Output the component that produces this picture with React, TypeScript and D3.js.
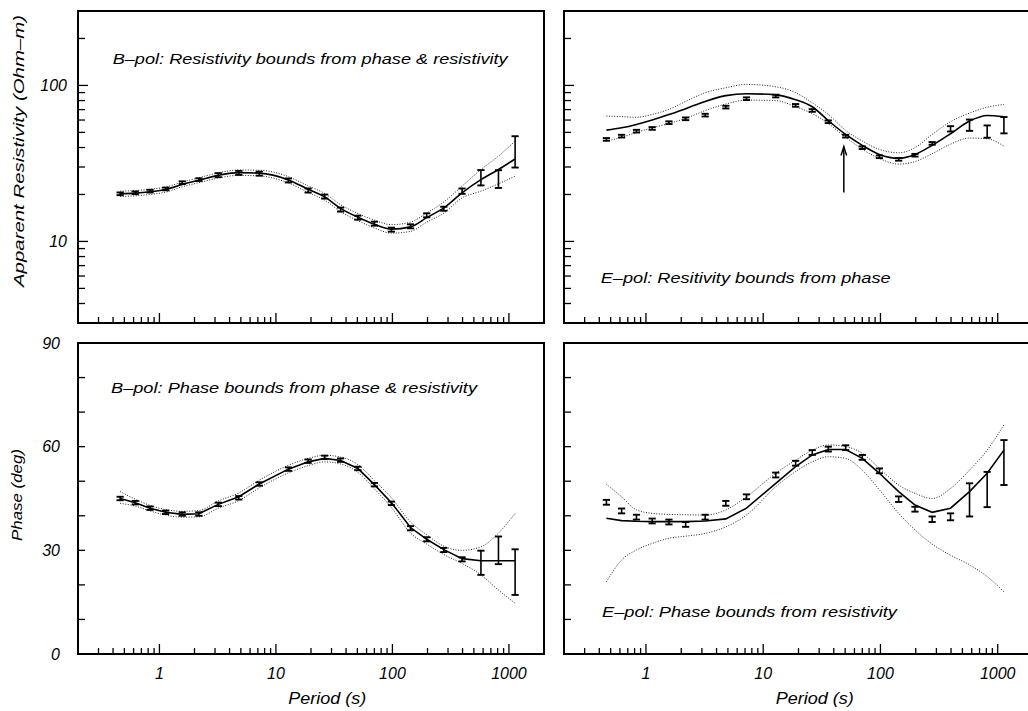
import { useEffect, useRef } from "react";
import * as d3 from "d3";

// periods (s) of the MT sites, shared by all four panels
const periods = [0.46, 0.62, 0.83, 1.13, 1.57, 2.18, 3.2, 4.8, 7.2, 12.8, 18.9, 26.2, 35.9, 50.5, 70, 98, 143, 197, 276, 396, 575, 813, 1130];

// B-pol apparent resistivity (Ohm-m)
const bRhoData = [20.2, 20.5, 21.0, 21.7, 23.8, 24.9, 26.6, 27.5, 27.2, 24.6, 21.2, 19.4, 16.0, 14.2, 13.0, 11.9, 12.5, 14.7, 16.2, 21.0, 25.6, 25.1, 37.5];
const bRhoErr = [0.02, 0.02, 0.02, 0.02, 0.02, 0.02, 0.03, 0.03, 0.03, 0.03, 0.03, 0.03, 0.03, 0.03, 0.03, 0.03, 0.03, 0.03, 0.03, 0.04, 0.12, 0.14, 0.26];
const bRhoModel = [20.2, 20.4, 20.8, 21.5, 23.2, 24.7, 26.5, 27.6, 27.4, 24.8, 21.6, 19.3, 16.3, 14.3, 12.9, 12.0, 12.4, 14.2, 16.4, 20.5, 24.9, 28.9, 33.8];
const bRhoUpper = [21.0, 21.2, 21.6, 22.3, 24.0, 25.6, 27.5, 28.7, 28.6, 26.0, 22.7, 20.3, 17.2, 15.1, 13.7, 12.8, 13.3, 15.2, 17.9, 22.6, 28.9, 35.2, 44.0];
const bRhoLower = [19.4, 19.6, 20.0, 20.7, 22.4, 23.8, 25.5, 26.5, 26.3, 23.7, 20.6, 18.4, 15.5, 13.6, 12.2, 11.3, 11.6, 13.3, 15.2, 19.0, 21.0, 23.4, 26.2];

// E-pol apparent resistivity (Ohm-m)
const eRhoData = [45.1, 47.3, 50.9, 53.0, 57.7, 61.1, 64.5, 72.6, 82.2, 85.5, 74.5, 69.1, 58.5, 47.3, 39.9, 34.9, 33.6, 35.7, 42.5, 52.7, 55.6, 50.6, 55.6];
const eRhoErr = [0.02, 0.02, 0.02, 0.02, 0.02, 0.02, 0.02, 0.02, 0.02, 0.02, 0.02, 0.02, 0.02, 0.02, 0.02, 0.02, 0.02, 0.02, 0.02, 0.04, 0.087, 0.095, 0.128];
const eRhoModel = [51.7, 53.5, 56.2, 60.0, 65.0, 71.0, 79.0, 86.0, 88.5, 87.0, 81.0, 73.0, 59.5, 48.5, 41.3, 36.1, 34.1, 36.1, 41.3, 49.0, 59.1, 64.2, 63.0];
const eRhoUpper = [63.6, 63.1, 62.5, 65.2, 70.2, 79.0, 89.8, 96.6, 101.5, 98.1, 89.8, 77.4, 65.2, 51.5, 44.0, 38.9, 37.0, 39.9, 48.5, 58.5, 66.5, 72.5, 75.5];
const eRhoLower = [44.0, 46.5, 50.0, 53.5, 57.0, 61.5, 69.0, 76.0, 80.5, 80.0, 73.0, 66.0, 57.0, 46.5, 39.0, 34.0, 31.3, 32.5, 36.5, 42.0, 46.0, 45.5, 40.8];

// B-pol phase (deg)
const bPhData = [45.0, 43.8, 42.2, 41.0, 40.5, 40.5, 43.3, 45.2, 49.2, 53.5, 55.8, 56.9, 56.1, 53.7, 49.0, 43.6, 36.4, 33.2, 30.1, 27.4, 26.4, 30.0, 23.7];
const bPhErr = [0.5, 0.5, 0.5, 0.5, 0.5, 0.5, 0.5, 0.5, 0.5, 0.5, 0.5, 0.5, 0.5, 0.5, 0.5, 0.5, 0.6, 0.6, 0.6, 0.6, 3.5, 4.0, 6.6];
const bPhModel = [45.0, 43.8, 42.2, 41.0, 40.4, 40.6, 43.3, 45.5, 49.2, 53.5, 55.6, 56.6, 56.0, 53.7, 49.0, 43.8, 36.6, 33.2, 30.2, 27.6, 27.0, 27.0, 27.0];
const bPhUpper = [47.0, 44.8, 43.0, 41.8, 41.3, 41.5, 44.3, 46.6, 50.3, 54.6, 56.6, 57.5, 57.0, 54.8, 50.2, 45.2, 38.2, 34.5, 31.2, 30.0, 31.0, 35.0, 40.7];
const bPhLower = [43.6, 42.8, 41.4, 40.2, 39.6, 39.7, 42.2, 44.4, 48.1, 52.4, 54.5, 55.6, 55.0, 52.6, 47.8, 42.4, 35.0, 31.8, 28.8, 26.2, 22.9, 18.5, 14.7];

// E-pol phase (deg)
const ePhData = [43.9, 41.4, 39.6, 38.5, 38.2, 37.5, 39.6, 43.6, 45.5, 51.8, 55.2, 58.3, 59.3, 59.7, 56.9, 53.0, 44.8, 41.9, 39.0, 39.7, 44.6, 47.6, 55.4];
const ePhErr = [0.7, 0.7, 0.7, 0.7, 0.7, 0.7, 0.7, 0.7, 0.7, 0.7, 0.7, 0.7, 0.7, 0.7, 0.7, 0.7, 0.8, 0.7, 0.8, 1.0, 4.8, 5.1, 6.5];
const ePhModel = [39.3, 38.6, 38.4, 38.3, 38.3, 38.3, 38.5, 39.1, 42.2, 49.4, 54.2, 57.6, 59.2, 59.2, 56.6, 52.3, 47.0, 43.1, 41.0, 42.2, 47.0, 52.3, 59.0];
const ePhUpper = [49.1, 45.5, 41.7, 40.7, 40.4, 40.3, 40.2, 41.7, 45.5, 52.3, 56.1, 59.0, 60.5, 60.0, 58.1, 53.7, 48.9, 46.5, 45.0, 47.9, 53.2, 59.0, 66.3];
const ePhLower = [20.9, 27.2, 30.1, 32.0, 33.5, 34.1, 34.9, 36.8, 40.2, 48.4, 52.8, 55.6, 57.1, 56.6, 53.2, 47.5, 40.7, 35.9, 31.8, 28.6, 25.8, 22.4, 18.0];

// axis ticks and labels
const periodDomain = [0.2, 2000];
const periodLabels = [1, 10, 100, 1000];
const rhoDomain = [3, 300];
const rhoLabels = [10, 100];
const phaseDomain = [0, 90];
const phaseLabels = [0, 30, 60, 90];

// arrow in the E-pol resistivity panel (period, from rho, to rho)
const arrowAt = [48.7, 20.6, 40.6];

const App = () => {
  const svgRef = useRef<SVGSVGElement>(null);

  useEffect(() => {
    const svg = d3.select(svgRef.current);
    svg.selectAll("*").remove();

    const font = "'Liberation Sans', Arial, Helvetica, sans-serif";
    const cols = [
      { x0: 78, x1: 544 },
      { x0: 564, x1: 1033 },
    ];
    const rows = [
      { y0: 11, y1: 323 },
      { y0: 343, y1: 654 },
    ];

    const panels = [
      { c: 0, r: 0, rho: true, data: bRhoData, err: bRhoErr, model: bRhoModel, upper: bRhoUpper, lower: bRhoLower,
        title: "B\u2013pol: Resistivity bounds from phase & resistivity", tx: 112.7, ty: 64, tl: 395, smooth: true },
      { c: 1, r: 0, rho: true, data: eRhoData, err: eRhoErr, model: eRhoModel, upper: eRhoUpper, lower: eRhoLower,
        title: "E\u2013pol: Resitivity bounds from phase", tx: 600.7, ty: 283, tl: 290, smooth: true },
      { c: 0, r: 1, rho: false, data: bPhData, err: bPhErr, model: bPhModel, upper: bPhUpper, lower: bPhLower,
        title: "B\u2013pol: Phase bounds from phase & resistivity", tx: 111, ty: 392.5, tl: 366, smooth: false },
      { c: 1, r: 1, rho: false, data: ePhData, err: ePhErr, model: ePhModel, upper: ePhUpper, lower: ePhLower,
        title: "E\u2013pol: Phase bounds from resistivity", tx: 602, ty: 616.5, tl: 295, smooth: false },
    ];

    const minorValues = (lo: number, hi: number) => {
      const out: number[] = [];
      for (let e = Math.floor(Math.log10(lo)); e <= Math.ceil(Math.log10(hi)); e++) {
        for (let m = 1; m <= 9; m++) {
          const v = m * Math.pow(10, e);
          if (v >= lo * 0.999 && v <= hi * 1.001) out.push(v);
        }
      }
      return out;
    };

    panels.forEach((p) => {
      const col = cols[p.c];
      const row = rows[p.r];
      const g = svg.append("g");

      const x = d3.scaleLog().domain(periodDomain).range([col.x0, col.x1]);
      const y = p.rho
        ? d3.scaleLog().domain(rhoDomain).range([row.y1, row.y0])
        : d3.scaleLinear().domain(phaseDomain).range([row.y1, row.y0]);

      // x ticks, inward from the bottom edge
      minorValues(periodDomain[0], periodDomain[1]).forEach((v) => {
        const major = Math.abs(Math.log10(v) - Math.round(Math.log10(v))) < 1e-6;
        g.append("line")
          .attr("x1", x(v)).attr("x2", x(v))
          .attr("y1", row.y1).attr("y2", row.y1 - (major ? 10 : 6))
          .attr("stroke", "#000").attr("stroke-width", 1.3);
      });

      // y ticks, inward from the left edge
      const yTicks = p.rho ? minorValues(rhoDomain[0], rhoDomain[1]) : d3.range(0, 91, 10);
      yTicks.forEach((v) => {
        const major = p.rho ? rhoLabels.includes(v) : false;
        g.append("line")
          .attr("x1", col.x0).attr("x2", col.x0 + (major ? 10 : 7))
          .attr("y1", y(v)).attr("y2", y(v))
          .attr("stroke", "#000").attr("stroke-width", 1.3);
      });

      // frame
      g.append("rect")
        .attr("x", col.x0).attr("y", row.y0)
        .attr("width", col.x1 - col.x0).attr("height", row.y1 - row.y0)
        .attr("fill", "none").attr("stroke", "#000").attr("stroke-width", 2);

      // y tick labels on the left column only
      if (p.c === 0) {
        const labels = p.rho ? rhoLabels : phaseLabels;
        g.selectAll(".yl").data(labels).enter().append("text")
          .attr("x", p.rho ? 67 : 60)
          .attr("y", (d) => y(d))
          .attr("dy", "0.36em")
          .attr("text-anchor", "end")
          .attr("font-family", font).attr("font-style", "italic").attr("font-size", 16)
          .text((d) => String(d));
      }

      // x tick labels on the bottom row
      if (p.r === 1) {
        g.selectAll(".xl").data(periodLabels).enter().append("text")
          .attr("x", (d) => x(d))
          .attr("y", 679)
          .attr("text-anchor", "middle")
          .attr("font-family", font).attr("font-style", "italic").attr("font-size", 16)
          .text((d) => String(d));
        g.append("text")
          .attr("x", x(31.6) - 7).attr("y", 704)
          .attr("text-anchor", "middle")
          .attr("textLength", 78).attr("lengthAdjust", "spacingAndGlyphs")
          .attr("font-family", font).attr("font-style", "italic").attr("font-size", 16)
          .text("Period (s)");
      }

      const pts = (vals: number[]) => vals.map((v, i) => [x(periods[i]), y(v)] as [number, number]);

      // bounds (dotted)
      const bound = d3.line().curve(d3.curveMonotoneX);
      [p.upper, p.lower].forEach((b) => {
        g.append("path")
          .attr("d", bound(pts(b)))
          .attr("fill", "none").attr("stroke", "#222")
          .attr("stroke-width", 1).attr("stroke-dasharray", "1 1.6");
      });

      // model response (solid)
      const modelLine = d3.line().curve(p.smooth ? d3.curveMonotoneX : d3.curveLinear);
      g.append("path")
        .attr("d", modelLine(pts(p.model)))
        .attr("fill", "none").attr("stroke", "#000").attr("stroke-width", 1.6);

      // data with error bars
      p.data.forEach((v, i) => {
        const e = p.err[i];
        const lo = p.rho ? v / (1 + e) : v - e;
        const hi = p.rho ? v * (1 + e) : v + e;
        const px = x(periods[i]);
        g.append("line")
          .attr("x1", px).attr("x2", px).attr("y1", y(lo)).attr("y2", y(hi))
          .attr("stroke", "#000").attr("stroke-width", 1.6);
        [lo, hi].forEach((b) => {
          g.append("line")
            .attr("x1", px - 3.6).attr("x2", px + 3.6).attr("y1", y(b)).attr("y2", y(b))
            .attr("stroke", "#000").attr("stroke-width", 1.9);
        });
      });

      // arrow
      if (p.c === 1 && p.r === 0) {
        const ax = x(arrowAt[0]);
        const yb = y(arrowAt[1]);
        const yt = y(arrowAt[2]);
        g.append("line")
          .attr("x1", ax).attr("x2", ax).attr("y1", yb).attr("y2", yt)
          .attr("stroke", "#000").attr("stroke-width", 1.5);
        g.append("path")
          .attr("d", `M${ax - 2.8},${yt + 9}L${ax},${yt}L${ax + 2.8},${yt + 9}`)
          .attr("fill", "none").attr("stroke", "#000").attr("stroke-width", 1.4);
      }

      // panel title
      g.append("text")
        .attr("x", p.tx).attr("y", p.ty)
        .attr("textLength", p.tl).attr("lengthAdjust", "spacingAndGlyphs")
        .attr("font-family", font).attr("font-style", "italic").attr("font-size", 15)
        .text(p.title);
    });

    // axis titles
    svg.append("text")
      .attr("transform", "translate(24,151) rotate(-90)")
      .attr("text-anchor", "middle")
      .attr("textLength", 272).attr("lengthAdjust", "spacingAndGlyphs")
      .attr("font-family", font).attr("font-style", "italic").attr("font-size", 15)
      .text("Apparent Resistivity (Ohm\u2013m)");
    svg.append("text")
      .attr("transform", "translate(22,495) rotate(-90)")
      .attr("text-anchor", "middle")
      .attr("textLength", 92).attr("lengthAdjust", "spacingAndGlyphs")
      .attr("font-family", font).attr("font-style", "italic").attr("font-size", 15)
      .text("Phase (deg)");
  }, []);

  return (
    <svg
      ref={svgRef}
      width={1028}
      height={711}
      style={{ position: "absolute", left: 0, top: 0, background: "#fff" }}
    />
  );
};

export default App;
